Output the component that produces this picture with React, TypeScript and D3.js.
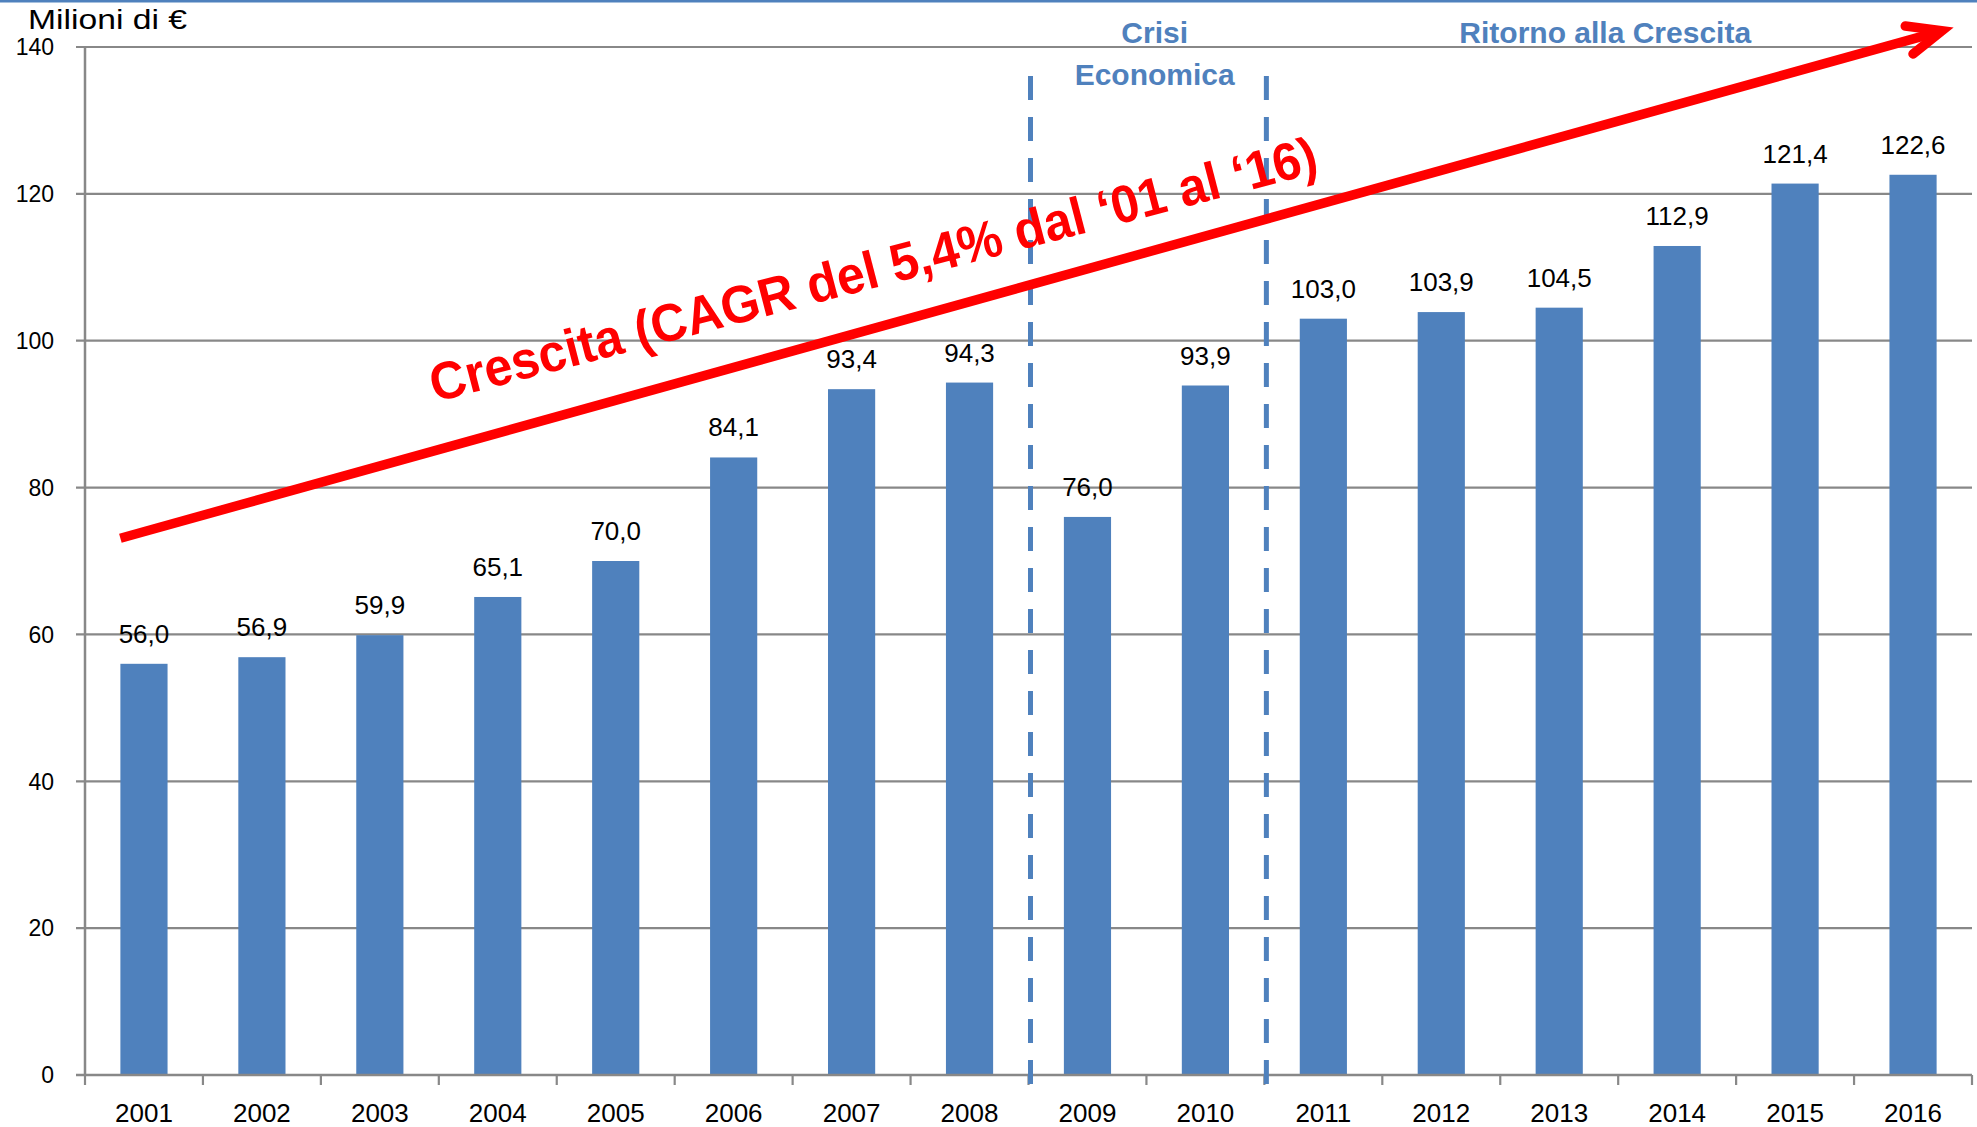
import React from 'react';
import * as d3 from 'd3';

const W = 1977;
const H = 1127;
const FONT = '"Liberation Sans", Arial, sans-serif';
const BLUE = '#4F81BD';
const GRID = '#888888';

// data
const years = ['2001', '2002', '2003', '2004', '2005', '2006', '2007', '2008',
  '2009', '2010', '2011', '2012', '2013', '2014', '2015', '2016'];
const values = [56.0, 56.9, 59.9, 65.1, 70.0, 84.1, 93.4, 94.3,
  76.0, 93.9, 103.0, 103.9, 104.5, 112.9, 121.4, 122.6];
const yTicks = [0, 20, 40, 60, 80, 100, 120, 140];

// annotations (positions in category-index units / values)
const phaseBreaks = [8, 10];
const phaseTitles = [
  { lines: ['Crisi', 'Economica'], at: 9.07 },
  { lines: ['Ritorno alla Crescita'], at: 12.89 },
];
const trendArrow = [[0.3, 73.1], [15.745, 142.2]];
const trendText = 'Crescita (CAGR del 5,4% dal \u201801 al \u201816)';
const trendTextAnchor = [2.968, 91.6];

export default function App() {
  const left = 85, right = 1972, top = 47, bottom = 1075;

  const x = d3.scaleBand<string>()
    .domain(years)
    .range([left, right])
    .paddingInner(0.6)
    .paddingOuter(0.3);
  const xi = d3.scaleLinear().domain([0, years.length]).range([left, right]);
  const y = d3.scaleLinear().domain([0, 140]).range([bottom, top]);

  const fmt = (v: number) => v.toFixed(1).replace('.', ',');

  // trend arrow in pixels
  const [p0, p1] = trendArrow.map(([i, v]) => [xi(i), y(v)]);
  const ang = Math.atan2(p1[1] - p0[1], p1[0] - p0[0]);
  const armLen = 37;
  const armAng = (23 * Math.PI) / 180;
  const arm = (s: number) => [
    p1[0] - armLen * Math.cos(ang + s * armAng),
    p1[1] - armLen * Math.sin(ang + s * armAng),
  ];
  const a1 = arm(1), a2 = arm(-1);
  const line = d3.line();

  const tx = xi(trendTextAnchor[0]);
  const ty = y(trendTextAnchor[1]);

  return (
    <svg width={W} height={H} style={{ position: 'absolute', left: 0, top: 0, display: 'block', background: '#fff' }}
      fontFamily={FONT}>
      <rect x={0} y={0} width={W} height={H} fill="#fff" />
      <line x1={0} x2={W} y1={1} y2={1} stroke={BLUE} strokeWidth={3} />

      <text x={28} y={29} fontSize={28} fill="#000" textLength={159} lengthAdjust="spacingAndGlyphs">Milioni di €</text>

      {/* grid + y axis */}
      {yTicks.map(t => (
        <g key={t}>
          <line x1={left - 9} x2={right} y1={y(t)} y2={y(t)} stroke={GRID} strokeWidth={2.2} />
          <text x={54} y={y(t)} dy="0.36em" textAnchor="end" fontSize={23} fill="#000">{t}</text>
        </g>
      ))}
      <line x1={left} x2={left} y1={top} y2={bottom} stroke={GRID} strokeWidth={2.5} />

      {/* bars */}
      {years.map((yr, i) => (
        <g key={yr}>
          <rect x={x(yr)} y={y(values[i])} width={x.bandwidth()} height={bottom - y(values[i])} fill={BLUE} />
          <text x={(x(yr) as number) + x.bandwidth() / 2} y={y(values[i]) - 21} textAnchor="middle"
            fontSize={26} fill="#000">{fmt(values[i])}</text>
          <text x={(x(yr) as number) + x.bandwidth() / 2} y={1122} textAnchor="middle"
            fontSize={26} fill="#000">{yr}</text>
        </g>
      ))}

      {/* x axis */}
      <line x1={left - 9} x2={right} y1={bottom} y2={bottom} stroke={GRID} strokeWidth={2.5} />
      {d3.range(years.length + 1).map(i => (
        <line key={i} x1={xi(i)} x2={xi(i)} y1={bottom} y2={bottom + 10} stroke={GRID} strokeWidth={2.2} />
      ))}

      {/* phase breaks */}
      {phaseBreaks.map(b => (
        <line key={b} x1={xi(b) + 2} x2={xi(b) + 2} y1={76} y2={1088}
          stroke={BLUE} strokeWidth={5} strokeDasharray="24 17" />
      ))}
      {phaseTitles.map(p => (
        <text key={p.lines[0]} x={xi(p.at)} y={43} textAnchor="middle" fontSize={30}
          fontWeight="bold" fill={BLUE}>
          {p.lines.map((l, k) => (
            <tspan key={l} x={xi(p.at)} dy={k === 0 ? 0 : 42}>{l}</tspan>
          ))}
        </text>
      ))}

      {/* trend arrow */}
      <path d={line([p0 as [number, number], p1 as [number, number]]) as string}
        stroke="#FF0000" strokeWidth={9.5} fill="none" />
      <path d={line([a1 as [number, number], p1 as [number, number], a2 as [number, number]]) as string}
        stroke="#FF0000" strokeWidth={9.5} fill="none" strokeLinecap="round" strokeLinejoin="miter" />
      <text x={tx} y={ty} transform={`rotate(-14.6 ${tx} ${ty})`} fontSize={53} fontWeight="bold"
        fill="#FF0000" textLength={915} lengthAdjust="spacingAndGlyphs">{trendText}</text>
    </svg>
  );
}
